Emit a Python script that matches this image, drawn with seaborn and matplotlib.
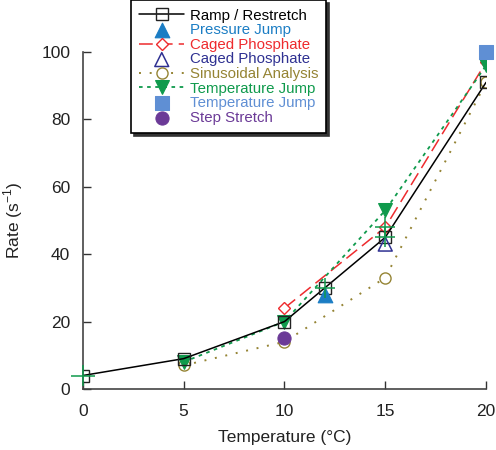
import matplotlib
matplotlib.use("Agg")
import matplotlib.pyplot as plt
import seaborn as sns
import pandas as pd

# data
ramp_t = [0, 5, 10, 12, 15, 20]
ramp_rate = [4, 9, 20, 30, 45, 91]
pressure_t = [12]
pressure_rate = [28]
caged_t = [10, 15, 20]
caged_rate = [24, 48, 97]
caged2_t = [15]
caged2_rate = [43]
sinus_t = [5, 10, 15, 20]
sinus_rate = [7, 14, 33, 91]
tjump_t = [5, 10, 15, 20]
tjump_rate = [8, 20, 53, 96]
tjump2_t = [20]
tjump2_rate = [100]
step_t = [10]
step_rate = [15]

# error bars (green crosses)
err_t = [0, 12, 15, 15]
err_rate = [4, 30, 45, 48]
err_xerr = [0.6, 0.5, 0.5, 0.5]
err_yerr = [3, 3, 3, 3]

sns.set_style("ticks")
plt.rcParams["font.family"] = ["Liberation Sans", "DejaVu Sans"]
plt.rcParams["mathtext.fontset"] = "custom"
plt.rcParams["mathtext.rm"] = "Liberation Sans"

fig = plt.figure(figsize=(4.96, 4.5), dpi=100)
ax = fig.add_axes([0.167, 0.1356, 0.813, 0.7488])

c_green = "#0f9a4c"
c_red = "#ee2b2e"
c_blue = "#1b7dc4"
c_navy = "#2f3192"
c_olive = "#958434"
c_lblue = "#5f8fd4"
c_purple = "#6b3a97"

def df(t, r):
    return pd.DataFrame({"t": t, "rate": r})

sns.lineplot(data=df(sinus_t, sinus_rate), x="t", y="rate", ax=ax, color=c_olive,
             linestyle=(0, (1, 4.5)), lw=1.4, marker="o", ms=8, mfc="white",
             mec=c_olive, mew=1.0, label="Sinusoidal Analysis", zorder=2)
sns.lineplot(data=df(caged_t, caged_rate), x="t", y="rate", ax=ax, color=c_red,
             linestyle=(0, (9, 4)), lw=1.1, marker="D", ms=6.5, mfc="white",
             mec=c_red, mew=1.0, label="Caged Phosphate", zorder=3)
sns.lineplot(data=df(tjump_t, tjump_rate), x="t", y="rate", ax=ax, color=c_green,
             linestyle=(0, (2, 2.5)), lw=1.3, marker="v", ms=10, mfc=c_green,
             mec=c_green, label="Temperature Jump", zorder=4)
sns.lineplot(data=df(ramp_t, ramp_rate), x="t", y="rate", ax=ax, color="black",
             lw=1.1, marker="s", ms=9, mfc="none", mec="#222222", mew=1.0,
             label="Ramp / Restretch", zorder=5)
sns.scatterplot(data=df(pressure_t, pressure_rate), x="t", y="rate", ax=ax,
                color=c_blue, marker="^", s=110, edgecolor=c_blue,
                label="Pressure Jump", zorder=6)
sns.scatterplot(data=df(caged2_t, caged2_rate), x="t", y="rate", ax=ax,
                marker="^", s=100, facecolor="none", edgecolor=c_navy,
                linewidth=1.1, label="Caged Phosphate", zorder=6)
sns.scatterplot(data=df(tjump2_t, tjump2_rate), x="t", y="rate", ax=ax,
                color=c_lblue, marker="s", s=90, edgecolor=c_lblue,
                label="Temperature Jump", zorder=6, clip_on=False)
sns.scatterplot(data=df(step_t, step_rate), x="t", y="rate", ax=ax,
                color=c_purple, marker="o", s=90, edgecolor=c_purple,
                label="Step Stretch", zorder=6)

ax.errorbar(err_t, err_rate, xerr=err_xerr, yerr=err_yerr, fmt="none",
            ecolor=c_green, elinewidth=1.1, capsize=0, zorder=7, clip_on=False)

ax.set_xlim(0, 20)
ax.set_ylim(0, 100)
ax.set_xticks([0, 5, 10, 15, 20])
ax.set_yticks([0, 20, 40, 60, 80, 100])
ax.tick_params(direction="in", length=6, width=1, labelsize=12.5, pad=9,
               colors="#333333", labelcolor="#222222")
ax.tick_params(axis="x", pad=11)
for s in ["top", "right"]:
    ax.spines[s].set_visible(False)
for s in ["left", "bottom"]:
    ax.spines[s].set_color("#444444")
    ax.spines[s].set_linewidth(1.2)
ax.set_xlabel("Temperature (°C)", fontsize=12.5, labelpad=8, color="#222222")
ax.set_ylabel("Rate (s$^{-1}$)", fontsize=12.5, labelpad=12, color="#222222")

# legend in the original order
handles, labels = ax.get_legend_handles_labels()
by_idx = [3, 4, 1, 5, 0, 2, 6, 7]
h = [handles[i] for i in by_idx]
l = [labels[i] for i in by_idx]
leg = ax.legend(h, l, loc="upper left", bbox_to_anchor=(131 / 496, 0.999),
                bbox_transform=fig.transFigure, fontsize=10.8, frameon=True,
                fancybox=False, edgecolor="black", handlelength=3.0,
                handletextpad=0.35, labelspacing=0.04, borderpad=0.55,
                borderaxespad=0.0,
                shadow={"color": "#333333", "alpha": 1.0})
leg.get_frame().set_linewidth(1.2)
text_colors = ["black", c_blue, c_red, c_navy, c_olive, c_green, c_lblue, c_purple]
for t, c in zip(leg.get_texts(), text_colors):
    t.set_color(c)

fig.savefig("out.png", dpi=100)
